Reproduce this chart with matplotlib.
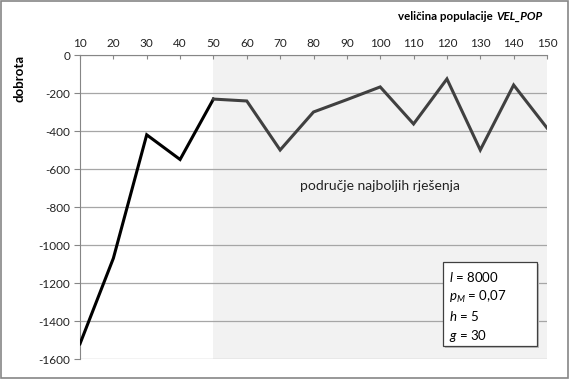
import matplotlib
matplotlib.use("Agg")
import matplotlib.pyplot as plt
from matplotlib.patches import Rectangle

plt.rcParams['font.family'] = ['Lato', 'DejaVu Sans']
plt.rcParams['mathtext.fontset'] = 'custom'
plt.rcParams['mathtext.it'] = 'Lato:italic'
plt.rcParams['mathtext.rm'] = 'Lato'

pop_sizes = [10, 20, 30, 40, 50, 60, 70, 80, 90, 100, 110, 120, 130, 140, 150]
fitness = [-1520, -1070, -420, -550, -232, -242, -500, -300, -235, -168, -363, -126, -500, -158, -384]
y_ticks = [0, -200, -400, -600, -800, -1000, -1200, -1400, -1600]
best_from = 50

fig = plt.figure(figsize=(5.69, 3.79), dpi=100)
ax = fig.add_axes([80/569, 1-359/379, (547-80)/569, (359-55)/379])

ax.axvspan(best_from, pop_sizes[-1], color='#f2f2f2', zorder=0, lw=0)
for yt in y_ticks:
    ax.axhline(yt, color='#a6a6a6', lw=0.9, zorder=1)

i50 = pop_sizes.index(best_from)
ax.plot(pop_sizes[:i50+1], fitness[:i50+1], color='black', lw=2.2, zorder=3, solid_joinstyle='miter')
ax.plot(pop_sizes[i50:], fitness[i50:], color='#404040', lw=2.2, zorder=3, solid_joinstyle='miter')

ax.set_xlim(10, 150)
ax.set_ylim(-1600, 0)
ax.set_xticks(pop_sizes)
ax.set_yticks(y_ticks)
ax.set_yticklabels([str(v) for v in y_ticks])
ax.xaxis.tick_top()
ax.tick_params(axis='x', direction='in', length=3, color='#868686', labelsize=8.5, pad=4, labelcolor='#222222')
ax.tick_params(axis='y', length=4, color='#868686', labelsize=8.5, pad=3, labelcolor='#222222')
for s in ['right', 'bottom']:
    ax.spines[s].set_visible(False)
ax.spines['top'].set_color('#868686')
ax.spines['left'].set_color('#868686')
ax.spines['top'].set_zorder(2)

fig.text(20/569, 1-78/379, 'dobrota', rotation=90, ha='center', va='center', fontsize=9.5, fontweight='bold')

t1 = fig.text(543/569, 1-17/379, 'VEL_POP', ha='right', va='center', fontsize=8.3, fontweight='bold', style='italic')
fig.canvas.draw()
bb = t1.get_window_extent()
fig.text((bb.x0 - 4)/569, 1-17/379, 'veličina populacije', ha='right', va='center', fontsize=8.3, fontweight='bold')

ax.text(100, -690, 'područje najboljih rješenja', ha='center', va='center', fontsize=10, color='#222222', zorder=4)

# info box
bx0, by0, bx1, by1 = 443/569, 1-346/379, 537/569, 1-262/379
shadow = Rectangle((bx0+0.004, by0-0.006), bx1-bx0, by1-by0, transform=fig.transFigure,
                   facecolor='#bfbfbf', edgecolor='none', zorder=5)
box = Rectangle((bx0, by0), bx1-bx0, by1-by0, transform=fig.transFigure,
                facecolor='white', edgecolor='#404040', lw=0.9, zorder=6)
fig.patches.extend([shadow, box])
lines = [r'$\mathit{l}$ = 8000', r'$\mathit{p}_{\mathit{M}}$ = 0,07', r'$\mathit{h}$ = 5', r'$\mathit{g}$ = 30']
ys = [277, 297, 316, 336]
for t, yy in zip(lines, ys):
    fig.text(449/569, 1-yy/379, t, ha='left', va='center', fontsize=9.5, zorder=7)

# outer frame
frame = Rectangle((1/569, 1/379), 567/569, 377/379, transform=fig.transFigure,
                  facecolor='none', edgecolor='#868686', lw=1.2)
fig.patches.append(frame)

fig.savefig('out.png', dpi=100)
